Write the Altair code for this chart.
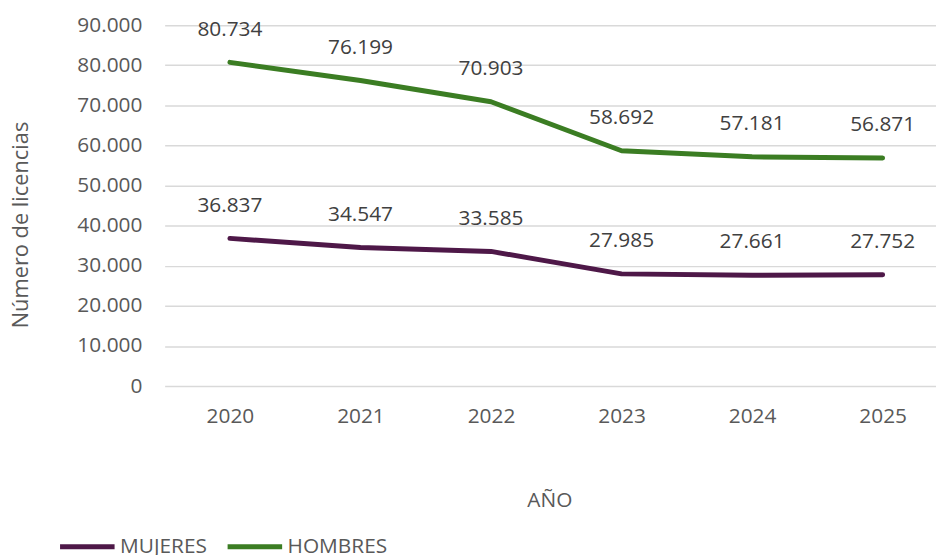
import altair as alt
import pandas as pd

years = ["2020", "2021", "2022", "2023", "2024", "2025"]
mujeres = [36837, 34547, 33585, 27985, 27661, 27752]
hombres = [80734, 76199, 70903, 58692, 57181, 56871]
series_names = ["MUJERES", "HOMBRES"]
series_colors = ["#4e1848", "#3b7d23"]

rows = []
for name, vals in zip(series_names, [mujeres, hombres]):
    for y, v in zip(years, vals):
        rows.append({"year": y, "value": v, "serie": name,
                     "label": f"{v:,}".replace(",", ".")})
df = pd.DataFrame(rows)

FONT = "Open Sans"
FS = 21
W, H = 778, 364

base = alt.Chart(df).encode(
    x=alt.X("year:N", sort=years,
            scale=alt.Scale(type="point", range=[0, 790], padding=0.5),
            axis=alt.Axis(title="AÑO", labelAngle=0, ticks=False, tickSize=0,
                          domain=False, grid=False, labelPadding=20,
                          labelFontSize=FS, labelColor="#595959", labelFont=FONT,
                          titleFontSize=FS, titleColor="#595959", titleFont=FONT,
                          titleFontWeight="normal", titleX=388, titleY=115,
                          titleBaseline="middle", titleAlign="center")),
    y=alt.Y("value:Q", scale=alt.Scale(domain=[0, 90000], nice=False),
            axis=alt.Axis(title="Número de licencias", values=list(range(0, 90001, 10000)),
                          labelExpr="replace(format(datum.value, ','), ',', '.')",
                          ticks=False, tickSize=0, domain=False, labelPadding=23,
                          gridColor="#d9d9d9", gridWidth=1.5,
                          labelFontSize=FS, labelColor="#595959", labelFont=FONT,
                          titleFontSize=22, titleColor="#595959", titleFont=FONT,
                          titleFontWeight="normal", titleAngle=-90,
                          titleX=-145, titleY=201, titleBaseline="middle",
                          titleAlign="center")),
)

lines = base.mark_line(strokeWidth=5, strokeCap="round", strokeJoin="round").encode(
    color=alt.Color("serie:N", sort=series_names,
                    scale=alt.Scale(domain=series_names, range=series_colors),
                    legend=alt.Legend(title=None, orient="none", direction="horizontal",
                                      legendX=-108, legendY=496,
                                      symbolType="stroke", symbolSize=3025,
                                      symbolStrokeWidth=5, labelFontSize=FS,
                                      labelColor="#595959", labelFont=FONT,
                                      labelOffset=3, columnPadding=10, padding=0))
)

labels = base.mark_text(dy=-27, baseline="alphabetic", align="center",
                        fontSize=FS, font=FONT, color="#404040").encode(
    text="label:N"
)

chart = (lines + labels).properties(
    width=W, height=H,
    autosize=alt.AutoSizeParams(type="none"),
    padding={"left": 158, "top": 15, "right": 0, "bottom": 168},
).configure_view(stroke=None)

chart.save("out.html", embed_options={"renderer": "svg", "actions": False})
